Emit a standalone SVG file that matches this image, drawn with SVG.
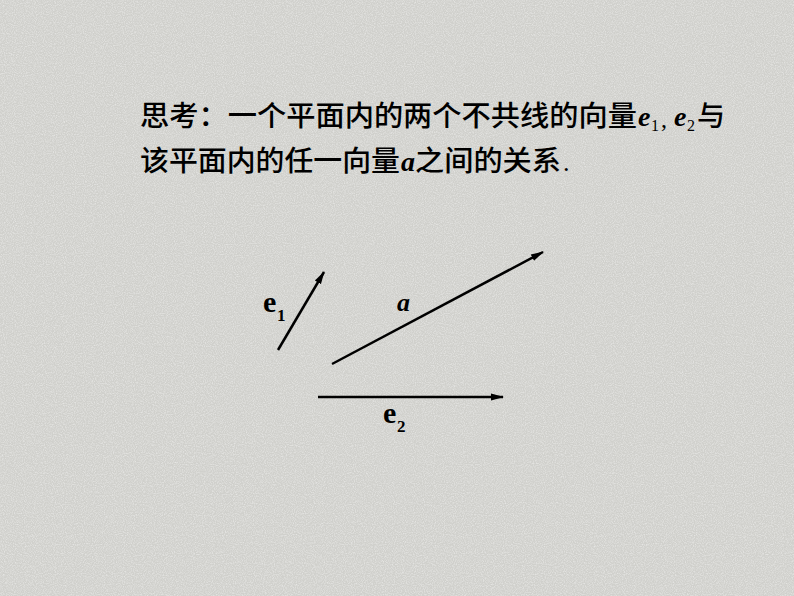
<svg xmlns="http://www.w3.org/2000/svg" width="794" height="596" viewBox="0 0 794 596">
<defs>
<filter id="noise" x="0" y="0" width="100%" height="100%">
<feTurbulence type="fractalNoise" baseFrequency="0.9" numOctaves="2" seed="3" result="t"/>
<feColorMatrix type="matrix" values="0 0 0 0 1  0 0 0 0 1  0 0 0 0 1  0 0 0 -1.6 1.0" />
</filter>
<marker id="arr" markerWidth="14" markerHeight="10" refX="12" refY="5" orient="auto" markerUnits="userSpaceOnUse">
<path d="M0,1.5 L13,5 L0,8.5 Z" fill="#000"/>
</marker>
<style>
.cn{font-family:"Noto Sans CJK SC","Liberation Sans",sans-serif;font-size:28px;font-weight:500;fill:#000}
.m{font-family:"Liberation Serif",serif;font-style:italic;font-weight:bold;fill:#000}
.sub{font-family:"Liberation Serif",serif;fill:#000}
.lbl{font-family:"Liberation Serif",serif;font-weight:bold;fill:#000}
.vec{stroke:#000;stroke-width:2.5;fill:none;marker-end:url(#arr)}
</style>
</defs>
<rect width="794" height="596" fill="#d0d0cc"/>
<rect width="794" height="596" fill="#ffffff" filter="url(#noise)" opacity="0.55"/>
<g id="title">
<text class="cn" x="140" y="126" textLength="497" lengthAdjust="spacingAndGlyphs">思考：一个平面内的两个不共线的向量</text>
<text class="m" x="638" y="126" font-size="28">e</text>
<text class="sub" x="651" y="131" font-size="16">1</text>
<text class="sub" x="661" y="127" font-size="24">,</text>
<text class="m" x="674" y="126" font-size="28">e</text>
<text class="sub" x="687" y="131" font-size="16">2</text>
<text class="cn" x="697" y="126">与</text>
<text class="cn" x="140" y="171" textLength="260" lengthAdjust="spacingAndGlyphs">该平面内的任一向量</text>
<text class="m" x="401" y="171" font-size="28">a</text>
<text class="cn" x="415" y="171" textLength="146" lengthAdjust="spacingAndGlyphs">之间的关系</text>
<text class="sub" x="563" y="171" font-size="26">.</text>
</g>
<g id="connectors">
<line class="vec" x1="278" y1="350" x2="324" y2="272"/>
<line class="vec" x1="332" y1="364" x2="543" y2="252"/>
<line class="vec" x1="318" y1="397" x2="503" y2="397"/>
</g>
<g id="e1">
<text class="lbl" x="263" y="312" font-size="30">e</text>
<text class="lbl" x="277" y="321" font-size="17">1</text>
</g>
<g id="a">
<text class="m" x="397" y="311" font-size="26">a</text>
</g>
<g id="e2">
<text class="lbl" x="383" y="423" font-size="30">e</text>
<text class="lbl" x="397" y="432" font-size="17">2</text>
</g>
</svg>
